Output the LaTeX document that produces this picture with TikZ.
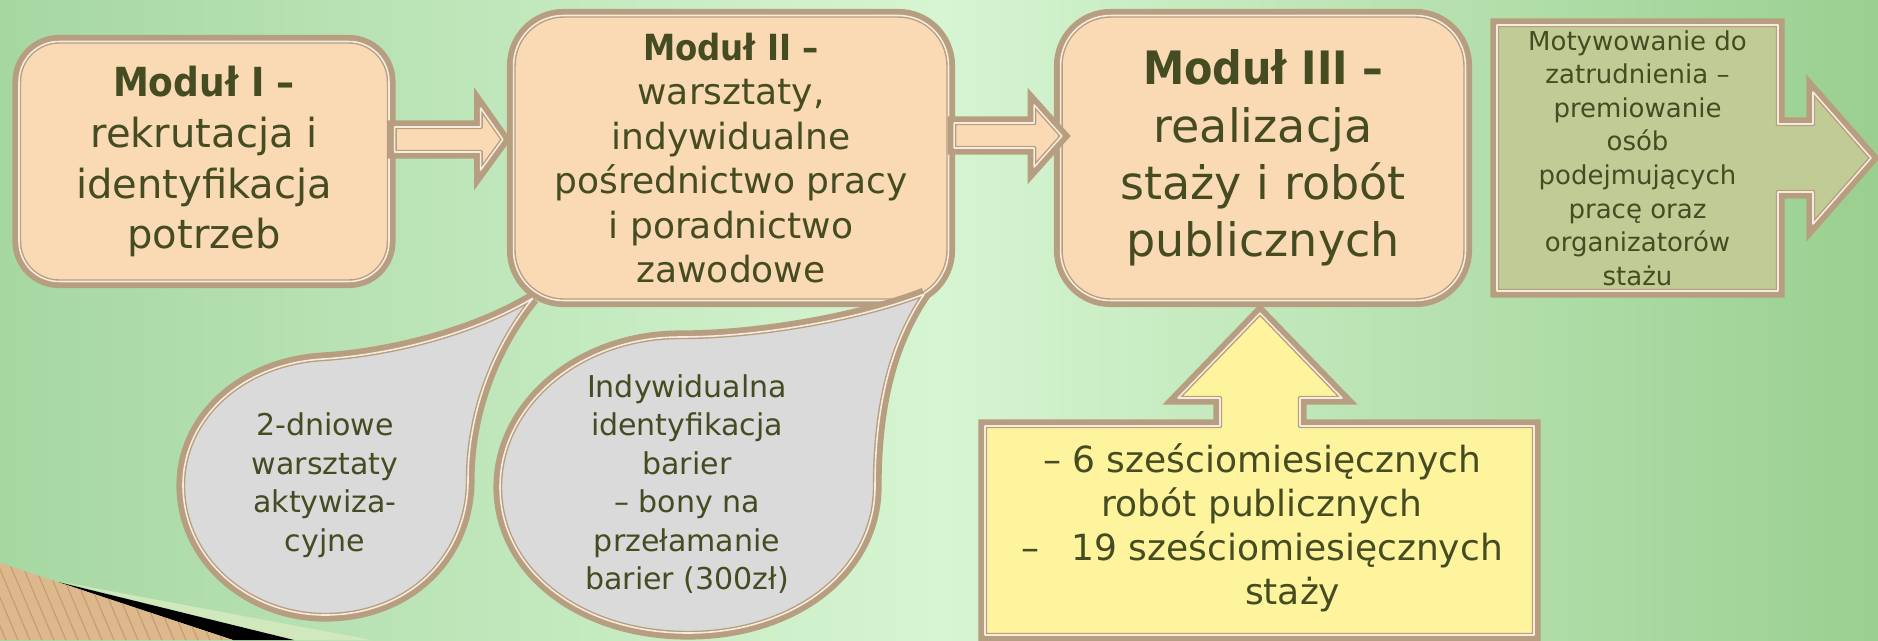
\documentclass[tikz,border=0pt]{standalone}
\usepackage{fontspec}
\setmainfont{DejaVu Sans}
\newfontfamily\headfont{DejaVu Sans Condensed}
\usetikzlibrary{calc}

\definecolor{tanline}{RGB}{184,158,128}
\definecolor{creamline}{RGB}{246,236,222}
\definecolor{peach}{RGB}{250,218,180}
\definecolor{dropgrey}{RGB}{218,218,218}
\definecolor{callyellow}{RGB}{254,244,158}
\definecolor{motgreen}{RGB}{192,203,150}
\definecolor{olive}{RGB}{70,76,34}
\definecolor{bgleft}{RGB}{166,215,161}
\definecolor{bgmid}{RGB}{214,245,210}
\definecolor{bgright}{RGB}{154,207,144}
\definecolor{wood}{RGB}{221,184,140}
\definecolor{woodline}{RGB}{196,156,112}
\definecolor{paleband}{RGB}{208,232,188}

\begin{document}
\begin{tikzpicture}[x=0.02cm, y=-0.02cm,
    frame/.style={preaction={draw=tanline, line width=7.5pt}, draw=tanline, double=creamline, line width=0.8pt, double distance=0.9pt, line join=round},
    modbox/.style={frame, fill=peach, rounded corners=#1, align=center, text=olive, inner sep=0pt},
    txt/.style={align=center, text=olive, inner sep=0pt}]
                \useasboundingbox (0,0) rectangle (1878,640);
                \shade[left color=bgleft, right color=bgright, middle color=bgmid] (0,0) rectangle (1878,640);

                % corner decoration
                \fill[paleband] (62,582) -- (372,640) -- (292,640) -- cycle;
                \fill[black] (58,582) -- (294,640) -- (233,640) -- cycle;
                \begin{scope}
                    \clip (0,563) -- (233,640) -- (0,640) -- cycle;
                    \fill[wood] (0,555) rectangle (240,640);
                    \foreach \s in {-150,-138,...,240}
                        \draw[woodline, line width=0.6pt] (\s,555) -- ++(38,90);
                \end{scope}

                % modules
                \node[modbox=0.8cm, minimum width=7.4cm, minimum height=4.8cm, font=\fontsize{22.8}{29}\selectfont] (m1) at (204,161.5) {{\headfont\bfseries Moduł I –}\\rekrutacja i\\identyfikacja\\potrzeb};
                \node[modbox=1cm, minimum width=8.7cm, minimum height=5.7cm, font=\fontsize{20.5}{25.3}\selectfont] (m2) at (731,158) {{\headfont\bfseries Moduł II –}\\warsztaty,\\indywidualne\\pośrednictwo pracy\\i poradnictwo\\zawodowe};
                \node[modbox=1cm, minimum width=8.1cm, minimum height=5.7cm, font=\fontsize{26.2}{32.6}\selectfont] (m3) at (1263,158) {{\headfont\bfseries Moduł III –}\\realizacja\\staży i robót\\publicznych};

                \draw[frame, fill=peach] ($(m1.east)+(5,-34.5)$) -- ($(m1.east)+(91,-34.5)$) -- ($(m1.east)+(91,-53.5)$) -- ($(m2.west)+(-10,-18.5)$) -- ($(m1.east)+(91,8.5)$) -- ($(m1.east)+(91,-9.5)$) -- ($(m1.east)+(5,-9.5)$) -- cycle;
                \draw[frame, fill=peach] ($(m2.east)+(5,-35)$) -- ($(m2.east)+(85,-35)$) -- ($(m2.east)+(85,-53)$) -- ($(m3.west)+(2,-22)$) -- ($(m2.east)+(85,9)$) -- ($(m2.east)+(85,-10)$) -- ($(m2.east)+(5,-10)$) -- cycle;

                % motivation box
                \draw[frame, fill=motgreen] (1497,25) -- (1778,25) -- (1778,124) -- (1813,124) -- (1813,92) -- (1871,158) -- (1813,224) -- (1813,192) -- (1778,192) -- (1778,291) -- (1497,291) -- cycle;
                \node[txt, font=\fontsize{14.8}{19.1}\selectfont] (mot) at (1637.5,158) {Motywowanie do\\zatrudnienia –\\premiowanie\\osób\\podejmujących\\pracę oraz\\organizatorów\\stażu};

                % drops under module II
                \draw[frame, fill=dropgrey] ($(m2.south west)+(20,-3)$) .. controls (480,330) and (400,354) .. (323,359) .. controls (240,364) and (183,420) .. (183,485) .. controls (183,560) and (250,615) .. (325,615) .. controls (410,615) and (468,555) .. (468,480) .. controls (468,410) and (495,345) .. ($(m2.south west)+(20,-3)$);
                \node[txt, font=\fontsize{17.1}{21.9}\selectfont] (d1) at (325,485) {2-dniowe\\warsztaty\\aktywiza-\\cyjne};

                \draw[frame, fill=dropgrey] ($(m2.south east)+(-25,-7)$) .. controls (860,319) and (760,337) .. (680,337) .. controls (580,337) and (500,405) .. (500,487) .. controls (500,570) and (580,633) .. (688,633) .. controls (795,633) and (875,570) .. (875,487) .. controls (875,400) and (893,340) .. ($(m2.south east)+(-25,-7)$);
                \node[txt, font=\fontsize{17.1}{21.9}\selectfont] (d2) at (687,484) {Indywidualna\\identyfikacja\\barier\\– bony na\\przełamanie\\barier (300zł)};

                % placements box
                \draw[frame, fill=callyellow] (985,426) -- (1220,426) -- (1220,398) -- (1178,398) -- ($(m3.south)+(-3,12)$) -- (1342,398) -- (1300,398) -- (1300,426) -- (1534,426) -- (1534,635) -- (985,635) -- cycle;
                \node[txt, font=\fontsize{20.5}{25}\selectfont] (place) at (1262,528) {– 6 sześciomiesięcznych\\robót publicznych\\–\hspace{0.9em}19 sześciomiesięcznych\\\hspace*{1.7em}staży};
            \end{tikzpicture}
\end{document}
